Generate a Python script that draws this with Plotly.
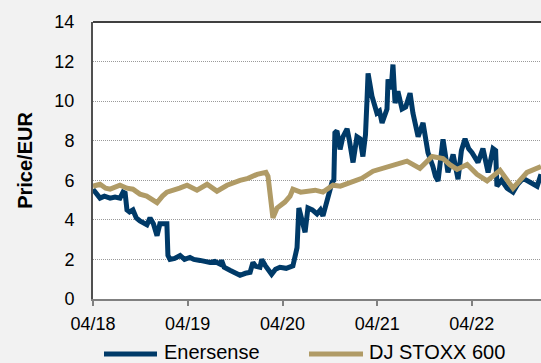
import plotly.graph_objects as go

# ---- data ----
ener_dates = ["2018-04-01","2018-04-15","2018-04-28","2018-05-15","2018-06-06","2018-06-25","2018-07-14","2018-07-26",
              "2018-08-03","2018-08-10","2018-08-20","2018-09-02","2018-09-15","2018-09-29","2018-10-15","2018-10-26",
              "2018-11-07","2018-11-20","2018-12-04","2018-12-15","2019-01-11","2019-01-15","2019-01-23","2019-02-10",
              "2019-03-03","2019-03-20","2019-04-10","2019-04-25","2019-05-19","2019-06-05","2019-06-26","2019-07-15",
              "2019-08-04","2019-08-10","2019-08-20","2019-09-11","2019-10-01","2019-10-20","2019-11-10","2019-11-28",
              "2019-12-09","2019-12-20","2020-01-05","2020-01-12","2020-01-25","2020-02-19","2020-03-05","2020-03-22",
              "2020-04-15","2020-05-11","2020-05-22","2020-05-27","2020-06-03","2020-06-15","2020-06-27","2020-07-08",
              "2020-07-25","2020-08-12","2020-08-25","2020-09-04","2020-09-20","2020-10-09","2020-10-16","2020-10-20",
              "2020-10-28","2020-11-09","2020-11-20","2020-12-06","2020-12-15","2020-12-29","2021-01-13","2021-01-25",
              "2021-02-05","2021-02-15","2021-02-21","2021-02-25","2021-03-05","2021-03-12","2021-03-31","2021-04-10",
              "2021-04-20","2021-05-01","2021-05-09","2021-05-13","2021-05-25","2021-06-01","2021-06-09","2021-06-20",
              "2021-07-06","2021-07-20","2021-08-06","2021-08-17","2021-09-06","2021-09-25","2021-10-14","2021-11-02",
              "2021-11-12","2021-11-22","2021-12-02","2021-12-11","2021-12-20","2021-12-30","2022-01-19","2022-02-07",
              "2022-02-20","2022-03-06","2022-03-20","2022-04-02","2022-04-25","2022-05-14","2022-06-03","2022-06-22",
              "2022-07-02","2022-07-07","2022-07-25","2022-08-15","2022-09-07","2022-09-25","2022-10-16","2022-11-10",
              "2022-12-09","2022-12-24"]
ener_vals = [5.55,5.3,5.1,5.2,5.1,5.15,5.1,5.4,
             5.35,4.5,4.4,4.5,4.1,3.95,3.8,3.75,
             4.1,3.8,3.2,3.8,3.8,2.2,2.0,2.05,
             2.2,2.0,2.1,2.0,1.95,1.9,1.85,1.9,
             1.77,1.95,1.6,1.45,1.3,1.2,1.3,1.35,
             1.85,1.65,1.6,2.0,1.7,1.25,1.5,1.6,
             1.55,1.67,2.3,2.6,4.6,4.0,3.37,4.6,
             4.5,4.3,4.5,4.2,5.0,5.9,6.0,8.4,
             8.5,7.56,8.2,8.6,8.0,6.9,8.2,8.1,
             7.2,8.3,10.1,11.4,10.8,10.25,9.4,9.5,
             8.9,9.3,9.6,11.1,10.6,11.85,9.9,10.5,
             9.6,9.7,10.4,9.4,8.2,8.9,7.4,6.7,
             6.2,5.96,7.0,8.07,7.3,6.4,7.3,6.05,
             7.5,8.1,7.6,7.4,6.9,7.6,6.4,7.6,
             7.5,5.7,6.0,5.6,5.4,5.8,6.1,5.9,
             5.7,6.3]

stoxx_dates = ["2018-04-01","2018-04-28","2018-05-20","2018-06-06","2018-07-14","2018-08-10","2018-09-02","2018-09-29",
               "2018-10-25","2018-12-04","2018-12-25","2019-01-11","2019-03-01","2019-03-30","2019-05-07","2019-06-15",
               "2019-07-23","2019-08-31","2019-10-20","2019-11-20","2019-12-25","2020-01-28","2020-02-05","2020-02-24",
               "2020-03-11","2020-04-10","2020-04-30","2020-05-11","2020-06-10","2020-07-04","2020-08-05","2020-09-04",
               "2020-10-13","2020-11-10","2020-12-17","2021-02-01","2021-03-16","2021-05-21","2021-07-25","2021-09-13",
               "2021-10-30","2021-12-11","2022-01-05","2022-02-03","2022-03-14","2022-04-21","2022-05-30","2022-07-19",
               "2022-09-07","2022-10-31","2022-12-24"]
stoxx_vals = [5.7,5.8,5.6,5.55,5.75,5.6,5.55,5.3,
              5.2,4.87,5.2,5.4,5.6,5.75,5.5,5.8,
              5.45,5.75,6.0,6.1,6.3,6.4,6.2,4.1,
              4.6,4.9,5.2,5.55,5.4,5.45,5.5,5.4,
              5.75,5.7,5.9,6.1,6.46,6.7,6.97,6.6,
              7.2,7.1,6.8,6.55,6.8,6.3,5.97,6.5,
              5.6,6.4,6.7]

tick_vals = ["2018-04-01","2019-04-01","2020-04-01","2021-04-01","2022-04-01"]
tick_text = ["04/18","04/19","04/20","04/21","04/22"]
series_names = ["Enersense","DJ STOXX 600"]

BLUE = "#003a68"
TAN = "#b09b66"
FONT = "Liberation Sans, Arial, sans-serif"

fig = go.Figure()
fig.add_trace(go.Scatter(x=ener_dates, y=ener_vals, mode="lines", name=series_names[0],
                         line=dict(color=BLUE, width=5), showlegend=False))
fig.add_trace(go.Scatter(x=stoxx_dates, y=stoxx_vals, mode="lines", name=series_names[1],
                         line=dict(color=TAN, width=5), showlegend=False))

W, H = 541, 363
ml, mr, mt, mb = 93, 0, 22, 64
pw, ph = W - ml - mr, H - mt - mb

def px_x(px):
    return (px - ml) / pw

def px_y(py):
    return (H - mb - py) / ph

# manual legend (layout decoration)
legend_items = [(104, 157, 162, BLUE, series_names[0]), (309, 363, 367, TAN, series_names[1])]
shapes = []
annotations = []
for x0, x1, xt, col, name in legend_items:
    shapes.append(dict(type="line", xref="paper", yref="paper", x0=px_x(x0), x1=px_x(x1),
                       y0=px_y(354), y1=px_y(354), line=dict(color=col, width=5)))
    annotations.append(dict(xref="paper", yref="paper", x=px_x(xt), y=px_y(351.5), xanchor="left",
                            yanchor="middle", showarrow=False, text=name,
                            font=dict(family=FONT, size=20, color="#000")))
# top border
shapes.append(dict(type="line", xref="paper", yref="paper", x0=0, x1=1, y0=1, y1=1,
                   line=dict(color="#404040", width=2)))

fig.update_layout(
    width=W, height=H,
    margin=dict(l=ml, r=mr, t=mt, b=mb, pad=0),
    paper_bgcolor="#f2f2f2", plot_bgcolor="#ffffff",
    font=dict(family=FONT, size=18, color="#000"),
    shapes=shapes, annotations=annotations,
    showlegend=False,
)
fig.update_xaxes(
    type="date", range=["2018-04-01", "2022-12-24"],
    tickvals=tick_vals, ticktext=tick_text,
    showgrid=False, zeroline=False,
    showline=True, linecolor="#808080", linewidth=1.5,
    ticks="outside", ticklen=5, tickcolor="#808080", tickwidth=1.5,
    ticklabelstandoff=3,
    tickfont=dict(family=FONT, size=18, color="#000"),
)
fig.update_yaxes(
    range=[0, 14], dtick=2, tick0=0,
    showgrid=True, gridcolor="#9a9a9a", gridwidth=1, griddash="1px,1px",
    zeroline=False,
    showline=True, linecolor="#505050", linewidth=2,
    ticks="", ticklabelstandoff=13,
    tickfont=dict(family=FONT, size=18, color="#000"),
    title=dict(text="<b>Price/EUR</b>", font=dict(family=FONT, size=20, color="#000"), standoff=16),
)

fig.write_html("out.html")
